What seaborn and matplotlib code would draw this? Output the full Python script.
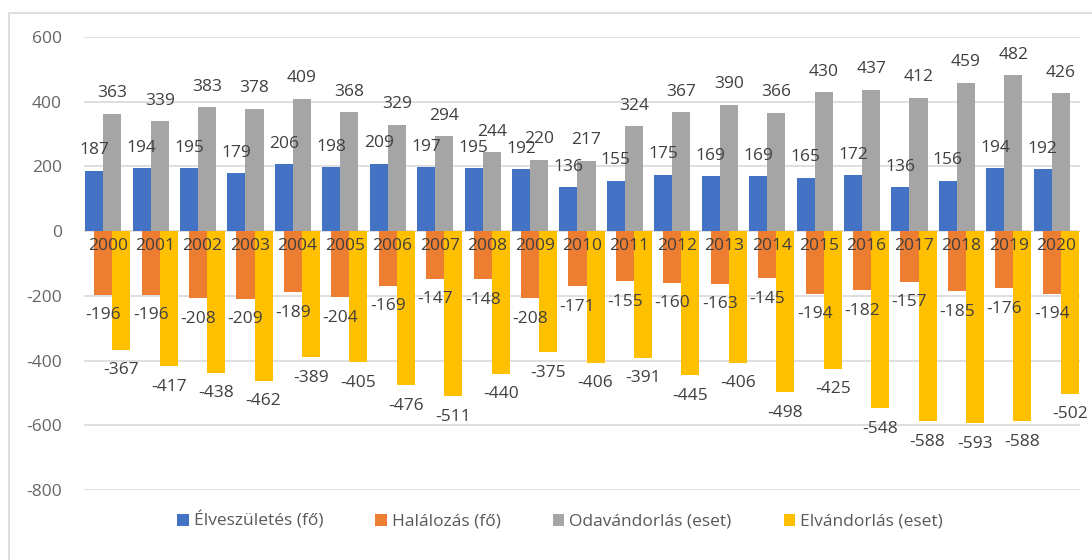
import numpy as np
import pandas as pd
import matplotlib
matplotlib.use("Agg")
import matplotlib.pyplot as plt
import seaborn as sns
from matplotlib.patches import Patch, Rectangle

# ---- data ----
years = list(range(2000, 2021))
elveszuletes = [187, 194, 195, 179, 206, 198, 209, 197, 195, 192,
                136, 155, 175, 169, 169, 165, 172, 136, 156, 194, 192]
halalozas = [-196, -196, -208, -209, -189, -204, -169, -147, -148, -208,
             -171, -155, -160, -163, -145, -194, -182, -157, -185, -176, -194]
odavandorlas = [363, 339, 383, 378, 409, 368, 329, 294, 244, 220,
                217, 324, 367, 390, 366, 430, 437, 412, 459, 482, 426]
elvandorlas = [-367, -417, -438, -462, -389, -405, -476, -511, -440, -375,
               -406, -391, -445, -406, -498, -425, -548, -588, -593, -588, -502]

series_names = ["Élveszületés (fő)", "Halálozás (fő)",
                "Odavándorlás (eset)", "Elvándorlás (eset)"]
colors = ["#4472C4", "#ED7D31", "#A5A5A5", "#FFC000"]
y_ticks = [-800, -600, -400, -200, 0, 200, 400, 600]

# ---- style ----
sns.set_theme(style="white")
plt.rcParams["font.family"] = ["Open Sans", "DejaVu Sans"]

FS = 12.5
bar_w = 0.38          # width of one bar (category units)
shift = bar_w / 2     # 50 % overlap shift of the negative pair

idx = np.arange(len(years))
pos_df = pd.DataFrame({
    "x": np.concatenate([idx, idx]).astype(float),
    "value": elveszuletes + odavandorlas,
    "series": [series_names[0]] * len(years) + [series_names[2]] * len(years),
})
neg_df = pd.DataFrame({
    "x": np.concatenate([idx, idx]).astype(float) + shift,
    "value": halalozas + elvandorlas,
    "series": [series_names[1]] * len(years) + [series_names[3]] * len(years),
})

fig = plt.figure(figsize=(10.92, 5.60), dpi=100)
ax = fig.add_axes([84 / 1092, 1 - 490 / 560, (1080 - 84) / 1092, (490 - 37) / 560])

sns.barplot(data=pos_df, x="x", y="value", hue="series",
            hue_order=[series_names[0], series_names[2]],
            palette=[colors[0], colors[2]], native_scale=True,
            width=2 * bar_w, dodge=True, saturation=1, linewidth=0,
            legend=False, ax=ax, errorbar=None)
sns.barplot(data=neg_df, x="x", y="value", hue="series",
            hue_order=[series_names[1], series_names[3]],
            palette=[colors[1], colors[3]], native_scale=True,
            width=2 * bar_w, dodge=True, saturation=1, linewidth=0,
            legend=False, ax=ax, errorbar=None)

for cont in ax.containers:
    ax.bar_label(cont, padding=9, fontsize=FS, color="#404040")

# axes / ticks
center_off = (2 * bar_w + shift) / 2 - bar_w   # centre of the whole cluster
ax.set_xlim(-0.5 + center_off, len(years) - 0.5 + center_off)
ax.set_ylim(y_ticks[0], y_ticks[-1])
ax.set_xticks(idx + center_off, labels=[str(y) for y in years])
ax.set_yticks(y_ticks, labels=[str(v) for v in y_ticks])
ax.set_xlabel("")
ax.set_ylabel("")

for s in ax.spines.values():
    s.set_visible(False)
ax.spines["bottom"].set_position(("data", 0))

ax.yaxis.grid(True, color="#D9D9D9", linewidth=1.2)
ax.xaxis.grid(False)
ax.yaxis.set_zorder(0.5)
ax.xaxis.set_zorder(5)
ax.tick_params(axis="x", length=0, pad=5, labelsize=FS, labelcolor="#404040")
ax.tick_params(axis="y", length=0, pad=16, labelsize=FS, labelcolor="#666666")

# legend
handles = [Patch(facecolor=c, edgecolor="none") for c in colors]
fig.legend(handles, series_names, loc="center", bbox_to_anchor=(0.513, 1 - 521 / 560),
           ncol=4, frameon=False, fontsize=FS, labelcolor="#595959",
           handlelength=0.65, handleheight=0.65, handletextpad=0.3,
           columnspacing=3.0)

# chart-area border (partly cropped in the reference)
fig.add_artist(Rectangle((9 / 1092, -0.05), 1.2, 1 - 13 / 560 + 0.05,
                         transform=fig.transFigure, fill=False,
                         edgecolor="#D9D9D9", linewidth=1.2))

fig.savefig("out.png", dpi=100)
